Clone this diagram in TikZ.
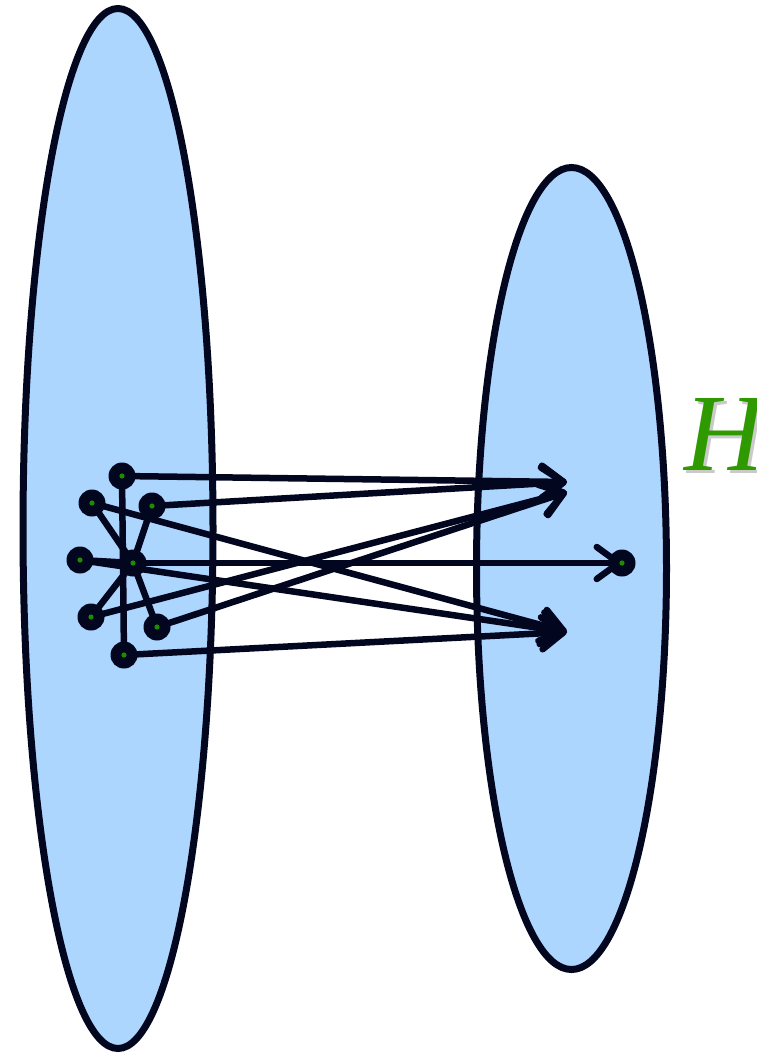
\documentclass[tikz,border=0pt]{standalone}
\usepackage{fontspec}
\setmainfont{Liberation Serif}
\usetikzlibrary{arrows.meta}
\definecolor{ink}{RGB}{2,6,30}
\definecolor{setblue}{RGB}{173,214,255}
\definecolor{ptgreen}{RGB}{30,140,0}
\definecolor{hgreen}{RGB}{46,154,0}
\pgfdeclarelayer{ell}
\pgfdeclarelayer{conn}
\pgfsetlayers{ell,conn,main}
\tikzset{
  setshape/.style={draw=ink,fill=setblue,line width=7pt},
  pt/.style={circle,fill=ink,minimum size=27pt,inner sep=0pt,
    path picture={\fill[ptgreen] (path picture bounding box.center) circle (2.6pt);}},
  conn/.style={draw=ink,line width=6.5pt,line cap=round},
  arr/.style={conn,-{Straight Barb[length=22pt,width=32pt,line cap=round,line join=round]}},
}
\begin{document}
\begin{tikzpicture}[x=1pt,y=-1pt]
\useasboundingbox (0,0) rectangle (756,1053);
\clip (0,0) rectangle (756,1053);
\begin{pgfonlayer}{ell}
  \path[setshape] (118,528.5) ellipse [x radius=95, y radius=520];
  \path[setshape] (571.5,568.5) ellipse [x radius=95, y radius=401];
\end{pgfonlayer}
% points of the left set
\node[pt] (top) at (122,476) {};
\node[pt] (ul)  at (92,503) {};
\node[pt] (ur)  at (152,506) {};
\node[pt] (l)   at (80,560) {};
\node[pt] (c)   at (133,563) {};
\node[pt] (ll)  at (91,617) {};
\node[pt] (lr)  at (157,627) {};
\node[pt] (bot) at (124,655) {};
% right set
\node[pt] (e) at (622,563) {};
\coordinate (t1) at (567,482);
\coordinate (t2) at (567,492);
\coordinate (t3) at (567,632);
% label with soft shadow
\begin{scope}[transparency group,opacity=0.35]
\node[anchor=base west,inner sep=0pt,text=black!60] at (687,473)
  {\fontsize{110}{110}\selectfont\itshape H};
\end{scope}
\node[anchor=base west,inner sep=0pt,text=hgreen] (H) at (684,470)
  {\fontsize{110}{110}\selectfont\itshape H};
\begin{pgfonlayer}{conn}
  \draw[conn] (top.center) -- (bot.center);
  \draw[conn] (c.center) -- (ul.center);
  \draw[conn] (c.center) -- (ur.center);
  \draw[conn] (c.center) -- (l.center);
  \draw[conn] (c.center) -- (ll.center);
  \draw[conn] (c.center) -- (lr.center);
  \draw[arr] (top.center) -- (t1);
  \draw[arr] (ur.center) -- (t1);
  \draw[arr] (ll.center) -- (t2);
  \draw[arr] (lr.center) -- (t2);
  \draw[arr] (ul.center) -- (t3);
  \draw[arr] (l.center) -- (t3);
  \draw[arr] (bot.center) -- (t3);
  \draw[arr] (c.center) -- (e.center);
\end{pgfonlayer}
\end{tikzpicture}
\end{document}
